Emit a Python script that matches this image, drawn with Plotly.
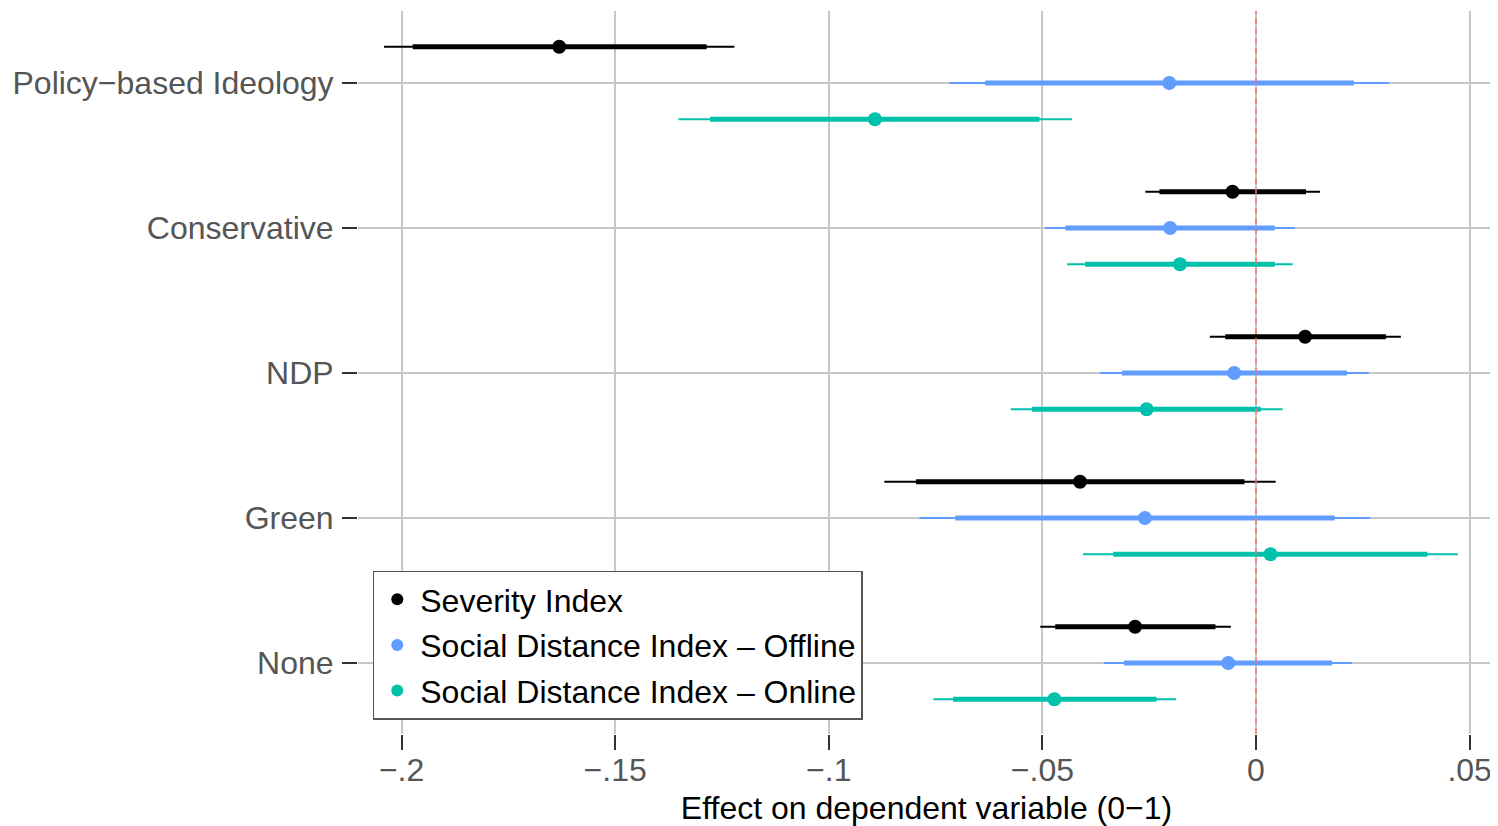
import plotly.graph_objects as go

categories = ["Policy−based Ideology", "Conservative", "NDP", "Green", "None"]
cat_pos = [5, 4, 3, 2, 1]

series_names = ["Severity Index", "Social Distance Index – Offline", "Social Distance Index – Online"]
series_colors = ["#000000", "#619CFF", "#00C1AB"]
series_offsets = [0.25, 0.0, -0.25]

# point estimates per series, ordered as categories
est = [
    [-0.1631, -0.0055, 0.0115, -0.0412, -0.0283],
    [-0.0203, -0.0201, -0.0051, -0.0260, -0.0065],
    [-0.0892, -0.0178, -0.0256, 0.0034, -0.0472],
]
# 95% interval (thin)
lo95 = [
    [-0.2041, -0.0259, -0.0108, -0.0870, -0.0505],
    [-0.0718, -0.0494, -0.0365, -0.0788, -0.0356],
    [-0.1352, -0.0442, -0.0574, -0.0405, -0.0755],
]
hi95 = [
    [-0.1221, 0.0150, 0.0339, 0.0046, -0.0059],
    [0.0311, 0.0091, 0.0264, 0.0268, 0.0224],
    [-0.0431, 0.0086, 0.0062, 0.0472, -0.0187],
]
# 90% interval (thick)
lo90 = [
    [-0.1974, -0.0226, -0.0072, -0.0796, -0.0470],
    [-0.0634, -0.0446, -0.0314, -0.0704, -0.0309],
    [-0.1278, -0.0400, -0.0524, -0.0334, -0.0709],
]
hi90 = [
    [-0.1286, 0.0117, 0.0304, -0.0027, -0.0095],
    [0.0229, 0.0044, 0.0213, 0.0184, 0.0178],
    [-0.0507, 0.0044, 0.0011, 0.0401, -0.0233],
]

x_tickvals = [-0.2, -0.15, -0.1, -0.05, 0, 0.05]
x_ticktext = ["−.2", "−.15", "−.1", "−.05", "0", ".05"]

FONT = "Liberation Sans, Arial, Helvetica, sans-serif"
FS = 32

fig = go.Figure()

for s in range(3):
    ys = [p + series_offsets[s] for p in cat_pos]
    xs = est[s]
    # thin (95%) bars
    fig.add_trace(go.Scatter(
        x=xs, y=ys, mode="markers",
        marker=dict(size=1, color="rgba(0,0,0,0)"),
        error_x=dict(type="data", symmetric=False,
                     array=[h - x for h, x in zip(hi95[s], xs)],
                     arrayminus=[x - l for l, x in zip(lo95[s], xs)],
                     thickness=2, width=0, color=series_colors[s]),
        showlegend=False, hoverinfo="skip"))
    # thick (90%) bars + point
    fig.add_trace(go.Scatter(
        x=xs, y=ys, mode="markers",
        marker=dict(size=14, color=series_colors[s]),
        error_x=dict(type="data", symmetric=False,
                     array=[h - x for h, x in zip(hi90[s], xs)],
                     arrayminus=[x - l for l, x in zip(lo90[s], xs)],
                     thickness=5, width=0, color=series_colors[s]),
        showlegend=False, name=series_names[s]))

for s in range(3):
    fig.add_trace(go.Scatter(
        x=[None], y=[None], mode="markers",
        marker=dict(size=14, color=series_colors[s]),
        name=series_names[s], showlegend=True, legendgroup=str(s)))

fig.add_vline(x=0, line=dict(color="#F8766D", width=1.5, dash="6px,4px"), layer="above")

# the page body has an 8px margin, so the figure is 8px smaller than the window
fig.update_layout(
    width=1490, height=818,
    margin=dict(l=350, r=3, t=3, b=92, autoexpand=False),
    paper_bgcolor="white", plot_bgcolor="white",
    font=dict(family=FONT, size=FS, color="#000000"),
    legend=dict(
        x=0.013, y=0.02, xanchor="left", yanchor="bottom",
        bgcolor="white", bordercolor="#555555", borderwidth=1.5,
        font=dict(family=FONT, size=FS, color="#000000"),
        tracegroupgap=1, itemsizing="constant", itemwidth=36,
    ),
    xaxis=dict(
        range=[-0.2102, 0.05594],
        tickvals=x_tickvals, ticktext=x_ticktext,
        showgrid=True, gridcolor="#C8C8C8", gridwidth=1.6,
        zeroline=False, showline=False, automargin=False,
        ticks="outside", ticklen=15, tickwidth=1.5, tickcolor="#333333",
        tickfont=dict(family=FONT, size=FS, color="#555555"),
        ticklabelstandoff=-7,
        title=dict(text="Effect on dependent variable (0−1)",
                   font=dict(family=FONT, size=FS, color="#000000"), standoff=10),
    ),
    yaxis=dict(
        range=[0.5103, 5.4966],
        tickvals=cat_pos, ticktext=categories,
        showgrid=True, gridcolor="#C8C8C8", gridwidth=1.6,
        zeroline=False, showline=False, automargin=False,
        ticks="outside", ticklen=15, tickwidth=1.5, tickcolor="#333333",
        tickfont=dict(family=FONT, size=FS, color="#555555"),
        ticklabelstandoff=2,
    ),
)

fig.write_html("out.html")
